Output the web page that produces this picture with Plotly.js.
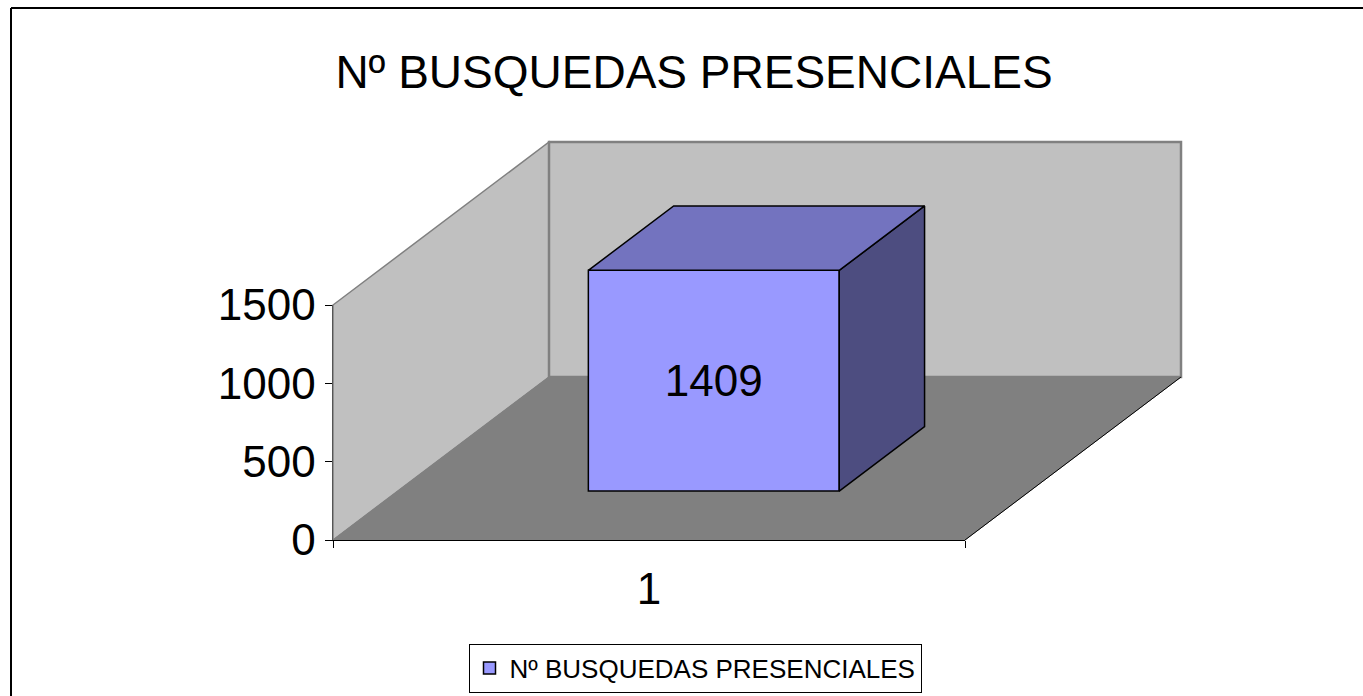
<!DOCTYPE html>
<html>
<head>
<meta charset="utf-8">
<script src="https://cdn.plot.ly/plotly-3.0.1.min.js"></script>
<style>html,body{margin:0;padding:0;background:#fff;}#chart{width:1363px;height:696px;}</style>
</head>
<body>
<div id="chart"></div>
<script>
// ---- data ----
const TITLE = 'Nº BUSQUEDAS PRESENCIALES';
const CATEGORIES = ['1'];
const SERIES_NAME = 'Nº BUSQUEDAS PRESENCIALES';
const VALUES = [1409];
const Y_TICKS = [0, 500, 1000, 1500];
const Y_MAX = 1500;

// ---- geometry (pixels of the 3D frame) ----
const W = 1363, H = 696;
const FX0 = 333, FX1 = 965, FY = 540, YTOP = 305;
const DEPTH_PX = [216, -163];
const PX_PER_U = (FX1 - FX0) / CATEGORIES.length;
const PX_PER_V = (FY - YTOP) / Y_MAX;
const X_RANGE = [0.5 - FX0 / PX_PER_U, 0.5 + (W - FX0) / PX_PER_U];
const Y_RANGE = [-(H - FY) / PX_PER_V, FY / PX_PER_V];
const DX = DEPTH_PX[0] / PX_PER_U, DY = -DEPTH_PX[1] / PX_PER_V;
const BAR_W = 0.397, D0 = 0.30, D1 = 0.695;
const NX = CATEGORIES.length;

function path(pts) { return 'M' + pts.map(p => p[0] + ',' + p[1]).join('L') + 'Z'; }

const x0 = 0.5, x1 = 0.5 + NX;
const floor = [[x0, 0], [x1, 0], [x1 + DX, DY], [x0 + DX, DY]];
const leftWall = [[x0, 0], [x0, Y_MAX], [x0 + DX, Y_MAX + DY], [x0 + DX, DY]];
const backWall = [[x0 + DX, DY], [x0 + DX, DY + Y_MAX], [x1 + DX, DY + Y_MAX], [x1 + DX, DY]];

const shapes = [
  {type: 'path', xref: 'x', yref: 'y', layer: 'below', path: path(leftWall), fillcolor: '#C0C0C0', line: {color: '#808080', width: 1.5}},
  {type: 'path', xref: 'x', yref: 'y', layer: 'below', path: path(backWall), fillcolor: '#C0C0C0', line: {color: '#808080', width: 2.5}},
  {type: 'path', xref: 'x', yref: 'y', layer: 'below', path: path(floor), fillcolor: '#808080', line: {color: '#808080', width: 1}},
  {type: 'line', xref: 'x', yref: 'y', layer: 'below', x0: x1, y0: 0, x1: x1 + DX, y1: DY, line: {color: '#000', width: 1}},
  // figure border (top and left edges visible)
  {type: 'line', xref: 'paper', yref: 'paper', x0: 11 / W, x1: 1, y0: 1 - 8 / H, y1: 1 - 8 / H, line: {color: '#000', width: 2}},
  {type: 'line', xref: 'paper', yref: 'paper', x0: 11 / W, x1: 11 / W, y0: 0, y1: 1 - 8 / H, line: {color: '#000', width: 2}}
];

const traces = [];
// top and side faces
VALUES.forEach((v, i) => {
  const c = i + 1;
  const L = c - BAR_W / 2, R = c + BAR_W / 2;
  const top = [[L + D0 * DX, D0 * DY + v], [R + D0 * DX, D0 * DY + v], [R + D1 * DX, D1 * DY + v], [L + D1 * DX, D1 * DY + v], [L + D0 * DX, D0 * DY + v]];
  const side = [[R + D0 * DX, D0 * DY], [R + D1 * DX, D1 * DY], [R + D1 * DX, D1 * DY + v], [R + D0 * DX, D0 * DY + v], [R + D0 * DX, D0 * DY]];
  [[side, '#4D4D80'], [top, '#7373BF']].forEach(([pts, col]) => {
    traces.push({type: 'scatter', mode: 'lines', x: pts.map(p => p[0]), y: pts.map(p => p[1]),
      fill: 'toself', fillcolor: col, line: {color: '#000', width: 1.5}, showlegend: false, hoverinfo: 'skip'});
  });
});
// front face as bar
traces.push({
  type: 'bar', name: SERIES_NAME,
  x: VALUES.map((v, i) => i + 1 + D0 * DX),
  y: VALUES,
  base: VALUES.map(() => D0 * DY),
  width: BAR_W,
  marker: {color: '#9999FF', line: {color: '#000', width: 1.5}},
  text: VALUES.map(String), textposition: 'inside', insidetextanchor: 'middle',
  textfont: {family: 'Liberation Sans, Arial', size: 44, color: '#000'},
  constraintext: 'none', hoverinfo: 'skip', showlegend: true
});
// invisible helper trace that carries the labelled axes (category axis + value axis)
traces.push({type: 'scatter', x: CATEGORIES, y: [0], xaxis: 'x2', yaxis: 'y2', mode: 'none', showlegend: false, hoverinfo: 'skip'});

const layout = {
  width: W, height: H,
  margin: {l: 0, r: 0, t: 0, b: 0},
  paper_bgcolor: '#fff', plot_bgcolor: 'rgba(0,0,0,0)',
  font: {family: 'Liberation Sans, Arial', color: '#000'},
  title: {text: TITLE, font: {size: 46, color: '#000'}, x: 694 / W, xanchor: 'center', xref: 'paper', y: 1 - 72 / H, yanchor: 'middle', yref: 'paper'},
  showlegend: true,
  legend: {orientation: 'h', x: 695 / W, xanchor: 'center', y: 1 - 668 / H, yanchor: 'middle',
    bordercolor: '#000', borderwidth: 1, bgcolor: '#fff', font: {size: 26, color: '#000'}},
  xaxis: {range: X_RANGE, domain: [0, 1], visible: false, fixedrange: true},
  yaxis: {range: Y_RANGE, domain: [0, 1], visible: false, fixedrange: true},
  xaxis2: {type: 'category', anchor: 'y2',
    domain: [FX0 / W, FX1 / W], range: [-0.5, NX - 0.5], categoryarray: CATEGORIES,
    tickson: 'boundaries', ticks: 'outside', ticklen: 7, tickcolor: '#000', showline: true, linecolor: '#000', linewidth: 1,
    showgrid: false, zeroline: false, tickfont: {size: 44, color: '#000'}, ticklabelstandoff: 10, fixedrange: true},
  yaxis2: {anchor: 'x2', side: 'left',
    domain: [(H - FY) / H, (H - YTOP) / H], range: [0, Y_MAX], tickvals: Y_TICKS,
    ticks: 'outside', ticklen: 7, tickcolor: '#000', showline: true, linecolor: '#555', linewidth: 1.5,
    showgrid: false, zeroline: false, tickfont: {size: 44, color: '#000'}, ticklabelstandoff: 0, fixedrange: true},
  shapes: shapes,
  bargap: 0
};

Plotly.newPlot('chart', traces, layout, {displayModeBar: false, staticPlot: true});
</script>
</body>
</html>
